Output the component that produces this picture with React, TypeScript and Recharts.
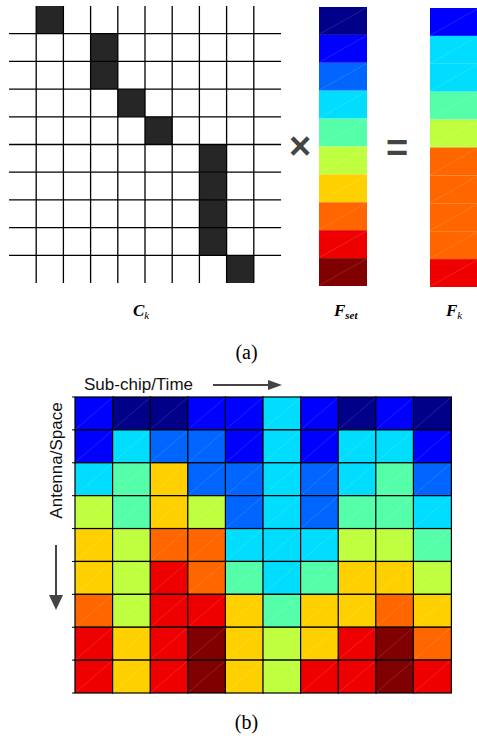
import React from 'react';
import { BarChart, Bar, XAxis, YAxis, Cell, ReferenceArea, ReferenceLine, ComposedChart, Scatter } from 'recharts';

// Jet-like 10-level colour set (F_set levels 0..9)
const jetColors = ['#000088', '#0000FF', '#0066FF', '#00DDFF', '#55FFAA', '#C0FF40', '#FFD000', '#FF6600', '#EE0000', '#800000'];

// (a) selection matrix C_k: active column for each row
const ckRows = [0, 1, 2, 3, 4, 5, 6, 7, 8, 9];
const ckActiveCols = [1, 3, 3, 4, 5, 7, 7, 7, 7, 8];
const gridTicks = [1, 2, 3, 4, 5, 6, 7, 8, 9];

// F_set column levels
const fsetLevels = [0, 1, 2, 3, 4, 5, 6, 7, 8, 9];
// F_k = C_k x F_set
const fkLevels = ckActiveCols.map((c) => fsetLevels[c]);

// (b) heat map: rows = antenna/space, columns = sub-chip/time
const heatColumns = ['t1', 't2', 't3', 't4', 't5', 't6', 't7', 't8', 't9', 't10'];
const heatLevels = [
  [1, 0, 0, 1, 1, 3, 1, 0, 1, 0],
  [1, 3, 2, 2, 1, 3, 1, 3, 3, 1],
  [3, 4, 6, 2, 2, 3, 2, 3, 4, 2],
  [5, 4, 6, 5, 2, 3, 2, 4, 4, 3],
  [6, 5, 7, 7, 3, 3, 3, 5, 5, 4],
  [6, 5, 8, 7, 4, 3, 4, 6, 6, 5],
  [7, 5, 8, 8, 6, 4, 6, 6, 7, 6],
  [8, 6, 8, 9, 6, 5, 6, 8, 9, 7],
  [8, 6, 8, 9, 6, 5, 8, 8, 9, 8],
];
const heatRowTicks = [0, 1, 2, 3, 4, 5, 6, 7, 8, 9];

const makeShape = (stroke: string | null) => (props: any) => {
  const { x, y, width, height, fill } = props;
  const xx = Math.min(x, x + width);
  const yy = Math.min(y, y + height);
  const w = Math.abs(width);
  const h = Math.abs(height);
  return (
    <g>
      <rect x={xx} y={yy} width={w} height={h} fill={fill} stroke={stroke ?? 'none'} strokeWidth={1.2} />
      <line x1={xx + 1} y1={yy + h - 1} x2={xx + w - 1} y2={yy + 1} stroke="#ffffff" strokeOpacity={0.22} strokeWidth={0.6} />
    </g>
  );
};

const columnShape = makeShape(null);
const heatShape = makeShape('#000');

const fsetData = [Object.fromEntries(fsetLevels.map((_, i) => ['s' + i, 1]))];
const fkData = [Object.fromEntries(fkLevels.map((_, i) => ['s' + i, 1]))];
const heatData = heatColumns.map((c) => ({ col: c, ...Object.fromEntries(heatLevels.map((_, i) => ['r' + i, 1])) }));
const ckData = ckRows.map((r) => ({ x: ckActiveCols[r] + 0.5, y: r + 0.5 }));

const serif = "'Liberation Serif', 'Times New Roman', serif";
const sans = "'Liberation Sans', Arial, Helvetica, sans-serif";

function ColumnChart({ levels, data }: { levels: number[]; data: any[] }) {
  return (
    <BarChart width={48} height={279} data={data} margin={{ top: 0, right: 0, bottom: 0, left: 0 }} barCategoryGap={0}>
      <XAxis hide />
      <YAxis type="number" domain={[0, 10]} reversed hide />
      {levels.map((lv, i) => (
        <Bar key={i} dataKey={'s' + i} stackId="a" fill={jetColors[lv]} isAnimationActive={false} shape={columnShape} />
      ))}
    </BarChart>
  );
}

export default function App() {
  return (
    <div style={{ position: 'absolute', left: 0, top: 0, width: 477, height: 739, background: '#fff', overflow: 'hidden' }}>
      {/* C_k grid */}
      <div style={{ position: 'absolute', left: 9, top: 6 }}>
        <ComposedChart width={272} height={277} data={ckData} margin={{ top: 0, right: 0, bottom: 0, left: 0 }}>
          <XAxis type="number" dataKey="x" domain={[0, 10]} ticks={gridTicks} hide />
          <YAxis type="number" dataKey="y" domain={[0, 10]} ticks={gridTicks} reversed hide />
          {gridTicks.map((t) => (
            <ReferenceLine key={'v' + t} x={t} stroke="#000" strokeWidth={1.3} />
          ))}
          {gridTicks.map((t) => (
            <ReferenceLine key={'h' + t} y={t} stroke="#000" strokeWidth={1.3} />
          ))}
          {ckRows.map((r) => (
            <ReferenceArea key={r} x1={ckActiveCols[r]} x2={ckActiveCols[r] + 1} y1={r} y2={r + 1} fill="#262626" fillOpacity={1} stroke="none" ifOverflow="visible" />
          ))}
          <Scatter dataKey="y" fill="none" isAnimationActive={false} shape={() => <g />} />
        </ComposedChart>
      </div>

      {/* F_set column */}
      <div style={{ position: 'absolute', left: 319, top: 7 }}>
        <ColumnChart levels={fsetLevels} data={fsetData} />
      </div>

      {/* F_k column */}
      <div style={{ position: 'absolute', left: 430, top: 8 }}>
        <ColumnChart levels={fkLevels} data={fkData} />
      </div>

      {/* (b) heat map */}
      <div style={{ position: 'absolute', left: 70, top: 396 }}>
        <BarChart width={382} height={298} data={heatData} margin={{ top: 1, right: 1, bottom: 1, left: 0 }} barCategoryGap={0}>
          <XAxis dataKey="col" hide />
          <YAxis type="number" domain={[0, 9]} ticks={heatRowTicks} reversed width={5} axisLine={false} tickLine={{ stroke: '#000', strokeWidth: 1 }} tickSize={3} tickFormatter={() => ''} />
          {heatLevels.map((row, i) => (
            <Bar key={i} dataKey={'r' + i} stackId="h" isAnimationActive={false} shape={heatShape}>
              {row.map((lv, j) => (
                <Cell key={j} fill={jetColors[lv]} />
              ))}
            </Bar>
          ))}
        </BarChart>
      </div>

      {/* Annotations */}
      <svg width={477} height={739} style={{ position: 'absolute', left: 0, top: 0, pointerEvents: 'none' }}>
        <text x={300} y={159} textAnchor="middle" fontFamily={sans} fontWeight="bold" fontSize={38} fill="#444">×</text>
        <text x={397} y={161} textAnchor="middle" fontFamily={sans} fontWeight="bold" fontSize={38} fill="#444">=</text>

        <text x={133} y={316} fontFamily={serif} fontSize={17} fontWeight="bold" fontStyle="italic" fill="#000">
          C<tspan fontSize={11} fontWeight="normal" dy={3}>k</tspan>
        </text>
        <text x={334} y={316} fontFamily={serif} fontSize={17} fontWeight="bold" fontStyle="italic" fill="#000">
          F<tspan fontSize={11} dy={3}>set</tspan>
        </text>
        <text x={446} y={316} fontFamily={serif} fontSize={17} fontWeight="bold" fontStyle="italic" fill="#000">
          F<tspan fontSize={11} fontWeight="normal" dy={3}>k</tspan>
        </text>

        <text x={246.5} y={358.5} textAnchor="middle" fontFamily={serif} fontSize={20} fill="#000">(a)</text>
        <text x={246.5} y={728.5} textAnchor="middle" fontFamily={serif} fontSize={20} fill="#000">(b)</text>

        <text x={193} y={390} textAnchor="end" fontFamily={sans} fontSize={17} fill="#111">Sub-chip/Time</text>
        <line x1={213} y1={385} x2={270} y2={385} stroke="#444" strokeWidth={2} />
        <polygon points="268,380 282,385 268,390" fill="#444" />

        <text transform="translate(62,460.5) rotate(-90)" textAnchor="middle" fontFamily={sans} fontSize={17} fill="#111">Antenna/Space</text>
        <line x1={56} y1={545} x2={56} y2={597} stroke="#444" strokeWidth={2} />
        <polygon points="49,595 63,595 56,610" fill="#444" />
      </svg>
    </div>
  );
}
